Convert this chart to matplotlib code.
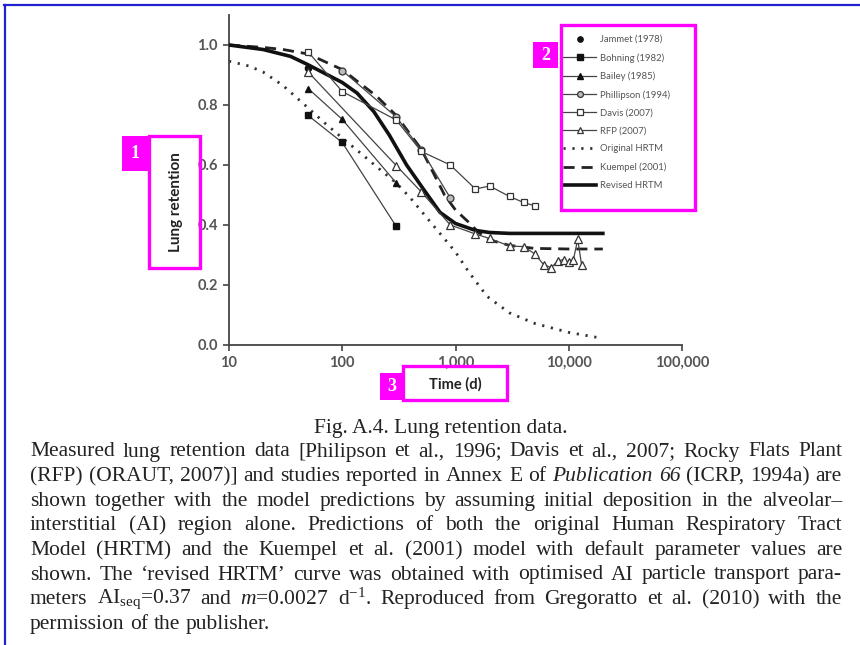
import matplotlib
matplotlib.use("Agg")
import matplotlib.pyplot as plt
from matplotlib.patches import Rectangle
from matplotlib.lines import Line2D
from matplotlib.ticker import FixedLocator, FixedFormatter, NullLocator

W, H = 860, 645

# ---------------- data ----------------
jammet_t = [50]
jammet_r = [0.925]
bohning_t = [50, 100, 300]
bohning_r = [0.765, 0.675, 0.395]
bailey_t = [50, 100, 300]
bailey_r = [0.855, 0.752, 0.54]
phil_t = [100, 300, 500, 900]
phil_r = [0.915, 0.76, 0.65, 0.49]
davis_t = [50, 100, 300, 500, 900, 1500, 2000, 3000, 4000, 5000]
davis_r = [0.977, 0.845, 0.75, 0.645, 0.60, 0.52, 0.53, 0.495, 0.475, 0.464]
rfp_t = [50, 300, 500, 900, 1500, 2000, 3000, 4000, 5000, 6000, 7000, 8000,
         9000, 10000, 11000, 12000, 13000]
rfp_r = [0.91, 0.598, 0.51, 0.40, 0.37, 0.355, 0.33, 0.328, 0.304, 0.268,
         0.258, 0.28, 0.285, 0.276, 0.285, 0.352, 0.266]
orig_t = [10, 15, 20, 30, 50, 70, 100, 150, 200, 300, 400, 600, 1000, 1300,
          1900, 3000, 5000, 10000, 20000]
orig_r = [0.946, 0.93, 0.91, 0.865, 0.79, 0.74, 0.69, 0.635, 0.595, 0.54,
          0.49, 0.41, 0.31, 0.245, 0.162, 0.107, 0.072, 0.042, 0.022]
kuem_t = [10, 20, 30, 50, 100, 200, 300, 500, 800, 1000, 1300, 1600, 2000,
          3000, 5000, 10000, 20000]
kuem_r = [1.0, 0.992, 0.985, 0.97, 0.918, 0.83, 0.765, 0.652, 0.50, 0.45,
          0.41, 0.375, 0.35, 0.332, 0.322, 0.32, 0.32]
rev_t = [10, 20, 35, 50, 100, 135, 190, 260, 370, 520, 730, 1000, 1500, 2000,
         3000, 20000]
rev_r = [1.0, 0.985, 0.962, 0.934, 0.875, 0.84, 0.778, 0.70, 0.60, 0.52,
         0.442, 0.405, 0.382, 0.375, 0.372, 0.372]

x_ticks = [10, 100, 1000, 10000, 100000]
x_labels = ["10", "100", "1,000", "10,000", "100,000"]
y_ticks = [0.0, 0.2, 0.4, 0.6, 0.8, 1.0]
y_labels = ["0.0", "0.2", "0.4", "0.6", "0.8", "1.0"]

legend_labels = ["Jammet (1978)", "Bohning (1982)", "Bailey (1985)",
                 "Phillipson (1994)", "Davis (2007)", "RFP (2007)",
                 "Original HRTM", "Kuempel (2001)", "Revised HRTM"]

caption_title = "Fig. A.4. Lung retention data."
caption_lines = [
    [("Measured lung retention data [Philipson et al., 1996; Davis et al., 2007; Rocky Flats Plant", "normal")],
    [("(RFP) (ORAUT, 2007)] and studies reported in Annex E of", "normal"), ("Publication 66", "italic"),
     ("(ICRP, 1994a) are", "normal")],
    [("shown together with the model predictions by assuming initial deposition in the alveolar\u2013", "normal")],
    [("interstitial (AI) region alone. Predictions of both the original Human Respiratory Tract", "normal")],
    [("Model (HRTM) and the Kuempel et al. (2001) model with default parameter values are", "normal")],
    [("shown. The \u2018revised HRTM\u2019 curve was obtained with optimised AI particle transport para-", "normal")],
    [("meters AI$_{\\mathrm{seq}}$=0.37 and $m$=0.0027 d$^{-1}$. Reproduced from Gregoratto et al. (2010) with the", "normal")],
    [("permission of the publisher.", "normal")],
]

# ---------------- figure ----------------
plt.rcParams['mathtext.fontset'] = 'custom'
plt.rcParams['mathtext.rm'] = 'Liberation Serif'
plt.rcParams['mathtext.it'] = 'Liberation Serif:italic'
plt.rcParams['mathtext.bf'] = 'Liberation Serif:bold'

fig = plt.figure(figsize=(W / 100, H / 100), dpi=100)
fig.patch.set_facecolor('white')


def fx(px):
    return px / W


def fy(py):
    return 1 - py / H


ax = fig.add_axes([fx(229), fy(345), (682 - 229) / W, (345 - 15) / H])
ax.set_xscale('log')
ax.set_xlim(10, 100000)
ax.set_ylim(0, 1.1)
for s in ['top', 'right']:
    ax.spines[s].set_visible(False)
for s in ['left', 'bottom']:
    ax.spines[s].set_color('#444444')
    ax.spines[s].set_linewidth(1.3)
ax.xaxis.set_major_locator(FixedLocator(x_ticks))
ax.xaxis.set_major_formatter(FixedFormatter(x_labels))
ax.xaxis.set_minor_locator(NullLocator())
ax.set_yticks(y_ticks)
ax.set_yticklabels(y_labels)
ax.tick_params(direction='out', length=4, width=1.2, color='#444444',
               labelcolor='#555555', labelsize=10.5, pad=4)
for lab in ax.get_xticklabels() + ax.get_yticklabels():
    lab.set_family('Lato')
    lab.set_fontweight('bold')

lc = '#444444'
ms = 4.5
# model curves
ax.plot(orig_t, orig_r, color='#333333', lw=2.0, ls=(0, (0.8, 2.4)),
        dash_capstyle='butt', label=legend_labels[6], zorder=2)
ax.plot(kuem_t, kuem_r, color='#222222', lw=2.0, ls=(0, (4, 2.5)),
        label=legend_labels[7], zorder=2)
ax.plot(rev_t, rev_r, color='#111111', lw=2.6, label=legend_labels[8], zorder=3)
# data
ax.plot(jammet_t, jammet_r, ls='none', marker='o', ms=ms, color='#111111',
        label=legend_labels[0], zorder=4)
ax.plot(bohning_t, bohning_r, color=lc, lw=0.9, marker='s', ms=ms,
        mfc='#111111', mec='#111111', label=legend_labels[1], zorder=4)
ax.plot(bailey_t, bailey_r, color=lc, lw=0.9, marker='^', ms=ms + 0.5,
        mfc='#111111', mec='#111111', label=legend_labels[2], zorder=4)
ax.plot(phil_t, phil_r, color=lc, lw=0.9, marker='o', ms=ms + 0.5,
        mfc='#bbbbbb', mec='#333333', mew=0.9, label=legend_labels[3], zorder=4)
ax.plot(davis_t, davis_r, color=lc, lw=0.9, marker='s', ms=ms,
        mfc='white', mec='#333333', mew=0.9, label=legend_labels[4], zorder=4)
ax.plot(rfp_t, rfp_r, color=lc, lw=0.9, marker='^', ms=ms + 0.8,
        mfc='white', mec='#333333', mew=0.9, label=legend_labels[5], zorder=4)

ax.set_ylabel("Lung retention", family='Lato', fontweight='bold',
              fontsize=11, color='#222222')
ax.yaxis.set_label_coords((183 - 229) / 453, (345 - 202) / 330)
ax.set_xlabel("Time (d)", family='Lato', fontweight='bold', fontsize=10.5,
              color='#222222')
ax.xaxis.set_label_coords((455 - 229) / 453, (345 - 377) / 330)

# legend
handles, labels = ax.get_legend_handles_labels()
order = [labels.index(l) for l in legend_labels]
leg = fig.legend([handles[i] for i in order], [labels[i] for i in order],
                 loc='upper left', bbox_to_anchor=(fx(563), fy(35)),
                 frameon=False, prop={'family': 'Lato', 'size': 6.8},
                 labelcolor='#555555', labelspacing=0.95, handlelength=3.5,
                 handletextpad=0.4, borderaxespad=0, borderpad=0,
                 markerscale=0.85)

# magenta annotation boxes
mag = '#ff00ff'


def box(x0, y0, x1, y1):
    fig.patches.append(Rectangle((fx(x0), fy(y1)), fx(x1 - x0), (y1 - y0) / H,
                                 transform=fig.transFigure, fill=False,
                                 edgecolor=mag, lw=2.4, zorder=10))


def tag(x0, y0, x1, y1, txt):
    fig.patches.append(Rectangle((fx(x0), fy(y1)), fx(x1 - x0), (y1 - y0) / H,
                                 transform=fig.transFigure, facecolor=mag,
                                 edgecolor=mag, lw=0, zorder=10))
    fig.text(fx((x0 + x1) / 2), fy((y0 + y1) / 2), txt, color='white',
             family='Liberation Serif', fontweight='bold', fontsize=13,
             ha='center', va='center', zorder=11)


box(149, 136, 200, 268)
tag(122, 136, 148, 171, "1")
box(561, 25, 695, 210)
tag(533, 42, 558, 68, "2")
box(403, 366, 507, 400)
tag(380, 373, 403, 400, "3")

# blue frame
fig.add_artist(Line2D([fx(4.5), fx(4.5)], [fy(5), fy(645)],
                      transform=fig.transFigure, color='#2222cc', lw=1.6))
fig.add_artist(Line2D([fx(4), fx(860)], [fy(5), fy(5)],
                      transform=fig.transFigure, color='#2222cc', lw=1.6))

# caption
cap_fs = 15.5
cap_col = '#222222'
fig.text(fx(441), fy(428), caption_title, family='Liberation Serif',
         fontsize=cap_fs, color=cap_col, ha='center', va='center')

fig.canvas.draw()
renderer = fig.canvas.get_renderer()
x_left, x_right = 30, 842
y0, dy = 452, 24.6
for i, segs in enumerate(caption_lines):
    words = []
    for seg, style in segs:
        for w in seg.split(' '):
            words.append((w, style))
    texts = [fig.text(0, fy(y0 + i * dy), w, family='Liberation Serif',
                      style=st, fontsize=cap_fs, color=cap_col,
                      ha='left', va='center') for w, st in words]
    widths = [t.get_window_extent(renderer).width for t in texts]
    last = (i == len(caption_lines) - 1)
    if last or len(texts) < 2:
        gap = cap_fs * 0.25 * 100 / 72
    else:
        gap = (x_right - x_left - sum(widths)) / (len(texts) - 1)
        gap = max(gap, 2.0)
    x = x_left
    for t, w in zip(texts, widths):
        t.set_x(fx(x))
        x += w + gap

fig.savefig("out.png", dpi=100, facecolor='white')
